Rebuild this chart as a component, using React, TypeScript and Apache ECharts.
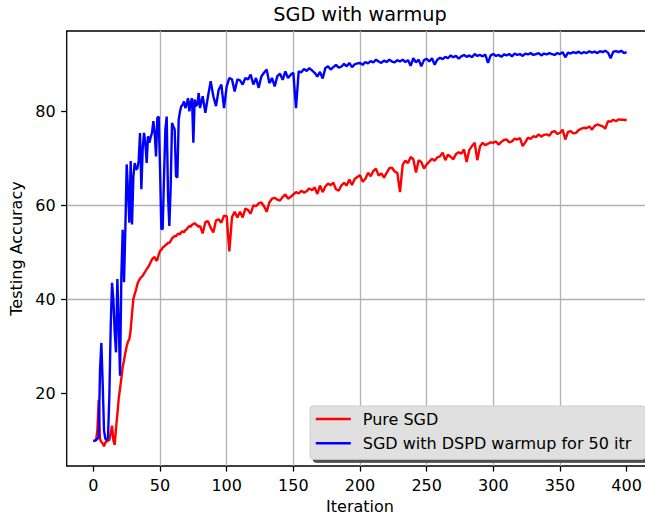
import React, { useEffect, useRef } from "react";
import * as echarts from "echarts";

const FONT = "DejaVu Sans";
const VIEW_W = 645;
const CHART_W = 660;
const CHART_H = 519;

// x grid of the recorded points: every iteration up to 80, then every 2nd
const iterations: number[] = [];
for (let i = 0; i <= 80; i++) iterations.push(i);
for (let i = 82; i <= 400; i += 2) iterations.push(i);

const seriesNames = ["Pure SGD", "SGD with DSPD warmup for 50 itr"];

// Pure SGD: it 0..80 (step 1), then 82..400 (step 2)
const pureSGD = [
  9.8, 9.9, 10.0, 12.0, 18.6, 10.2, 9.6, 9.3, 8.7, 9.5,
  9.7, 9.9, 10.0, 11.5, 13.1, 10.0, 9.0, 12.5, 15.5, 18.8,
  21.0, 23.2, 25.5, 27.0, 28.6, 30.0, 31.0, 31.5, 33.5, 37.0,
  40.0, 41.1, 42.0, 43.2, 43.9, 44.4, 44.7, 45.0, 45.5, 45.9,
  46.4, 46.8, 47.3, 47.9, 48.5, 48.8, 49.0, 48.2, 48.4, 49.5,
  50.3, 50.5, 51.0, 51.2, 51.5, 51.7, 52.0, 52.0, 52.4, 53.0,
  53.2, 53.5, 53.4, 53.8, 54.0, 53.8, 54.3, 54.5, 54.2, 54.7,
  54.9, 55.3, 55.6, 55.4, 55.9, 56.0, 56.2, 55.9, 55.7, 55.4,
  55.6,
  54.0, 56.4, 56.6, 55.2, 54.2, 56.8, 57.0, 56.3, 57.8, 57.7,
  50.2, 57.5, 58.6, 57.4, 58.6, 57.4, 59.3, 59.0, 58.2, 60.0,
  59.8, 60.4, 60.6, 59.8, 58.6, 60.6, 61.4, 61.6, 61.2, 61.0,
  61.8, 62.3, 61.4, 61.8, 62.3, 62.8, 62.5, 63.1, 62.7, 63.0,
  63.6, 63.2, 63.8, 62.4, 64.2, 62.8, 64.0, 64.6, 64.3, 64.8,
  63.4, 63.1, 64.2, 64.8, 64.2, 65.5, 64.3, 65.6, 66.0, 66.4,
  65.0, 65.6, 66.9, 66.2, 67.3, 67.8, 66.3, 66.8, 65.9, 66.9,
  67.9, 68.0, 67.2, 66.9, 62.8, 68.6, 69.5, 69.0, 70.3, 69.8,
  67.0, 69.6, 69.2, 67.8, 68.7, 69.3, 69.9, 69.5, 70.2, 70.4,
  71.2, 69.6, 70.8, 70.3, 69.8, 70.9, 71.3, 71.0, 71.9, 69.2,
  71.8, 72.6, 73.3, 69.6, 72.5, 73.3, 72.8, 73.1, 73.4, 73.3,
  73.6, 72.9, 73.5, 73.9, 74.0, 73.4, 73.6, 74.2, 74.0, 74.3,
  72.6, 73.4, 74.4, 74.1, 74.7, 74.5, 75.1, 74.6, 75.0, 75.1,
  74.8, 75.6, 75.8, 75.2, 75.4, 76.1, 74.0, 75.6, 75.8, 75.3,
  75.4, 76.0, 76.3, 76.5, 76.4, 76.8, 76.1, 76.9, 77.2, 77.0,
  76.8, 76.3, 77.9, 77.8, 78.2, 77.9, 78.3, 78.2, 78.2, 78.1,
];

// SGD with DSPD warmup: same x grid
const dspdWarmup = [
  9.8, 9.9, 10.0, 10.3, 10.6, 25.0, 30.7, 22.0, 12.0, 10.3,
  10.0, 10.6, 19.5, 34.0, 43.5, 40.0, 33.0, 28.7, 44.3, 35.0,
  23.7, 45.0, 54.8, 43.6, 55.0, 68.7, 63.0, 56.3, 69.4, 55.9,
  66.0, 69.0, 67.6, 67.8, 69.5, 75.4, 63.4, 72.0, 75.4, 73.3,
  69.0, 74.7, 73.3, 74.5, 75.4, 77.9, 75.4, 70.4, 78.6, 78.9,
  68.0, 54.9, 55.0, 66.0, 76.1, 78.9, 62.0, 55.6, 64.0, 77.5,
  76.8, 76.1, 66.2, 65.9, 78.2, 80.0, 81.1, 81.4, 82.1, 80.7,
  81.5, 82.8, 80.0, 81.9, 82.8, 73.3, 82.5, 81.1, 81.5, 83.9,
  80.7,
  83.2, 79.7, 83.2, 86.4, 83.2, 81.1, 84.6, 85.7, 80.7, 85.3,
  87.1, 86.8, 84.2, 86.8, 86.6, 85.7, 87.1, 86.8, 87.8, 85.7,
  87.1, 85.0, 87.4, 88.2, 88.9, 86.0, 87.1, 85.3, 87.5, 88.0,
  86.7, 88.5, 87.1, 87.8, 88.2, 80.7, 88.5, 88.3, 89.0, 88.6,
  89.2, 88.7, 88.2, 87.4, 88.4, 87.0, 89.2, 89.6, 88.9, 89.4,
  89.9, 89.3, 89.5, 90.1, 89.6, 90.3, 89.4, 90.0, 90.2, 90.3,
  89.9, 90.5, 90.2, 90.7, 90.4, 91.0, 90.6, 90.3, 90.8, 90.5,
  91.0, 90.6, 90.4, 90.9, 90.6, 91.0, 90.5, 90.9, 89.7, 91.3,
  90.4, 91.0, 89.6, 90.9, 91.2, 90.6, 91.3, 89.9, 91.0, 91.4,
  91.1, 91.6, 91.3, 91.9, 91.5, 91.8, 91.2, 91.7, 92.0, 91.6,
  91.9, 91.5, 92.2, 91.8, 92.0, 91.7, 92.1, 90.3, 91.9, 92.2,
  91.8, 92.0, 91.6, 92.1, 91.9, 92.2, 91.7, 92.3, 92.0, 92.2,
  91.8, 92.3, 92.1, 92.4, 92.0, 92.2, 92.4, 91.9, 92.3, 92.1,
  92.4, 92.2, 92.0, 92.4, 92.2, 92.6, 91.5, 92.5, 92.3, 92.6,
  92.4, 92.7, 92.3, 92.6, 92.4, 92.8, 92.5, 92.7, 92.4, 92.8,
  92.6, 92.9, 92.5, 91.3, 92.7, 92.8, 92.6, 92.9, 92.4, 92.6,
];

const xTicks = [0, 50, 100, 150, 200, 250, 300, 350, 400];
const yTicks = [20, 40, 60, 80];
const seriesColors = ["#ff0000", "#0000ff"];

// layout (pixels)
const PLOT_LEFT = 66.7;
const PLOT_RIGHT = 653.3;
const PLOT_TOP = 31;
const PLOT_BOTTOM = 467.3;
const LEGEND_RIGHT = 645.3;
const LEGEND_BOTTOM = 459.3;

const tickStyle = { color: "#000", width: 1.3 };
const gridLineStyle = { color: "#b0b0b0", width: 1.3 };
const labelText = { fontFamily: FONT, fontSize: 16, color: "#000" };

function buildOption(): any {
  const lines = [pureSGD, dspdWarmup].map((vals, s) => ({
    name: seriesNames[s],
    type: "line",
    data: iterations.map((x, i) => [x, vals[i]]),
    showSymbol: false,
    symbol: "none",
    clip: true,
    z: 2 + s,
    lineStyle: { color: seriesColors[s], width: 2.4 },
    itemStyle: { color: seriesColors[s] },
    emphasis: { disabled: true },
  }));

  return {
    animation: false,
    textStyle: { fontFamily: FONT },
    title: {
      text: "SGD with warmup",
      left: (PLOT_LEFT + PLOT_RIGHT) / 2,
      top: 5,
      padding: 0,
      textAlign: "center",
      textStyle: { fontFamily: FONT, fontSize: 19.3, fontWeight: "normal", color: "#000" },
    },
    grid: {
      left: PLOT_LEFT,
      right: CHART_W - PLOT_RIGHT,
      top: PLOT_TOP,
      bottom: CHART_H - PLOT_BOTTOM,
      show: true,
      borderColor: "#000",
      borderWidth: 1.3,
      backgroundColor: "transparent",
    },
    xAxis: {
      type: "value",
      min: -20,
      max: 420,
      splitNumber: 9,
      position: "bottom",
      name: "Iteration",
      nameLocation: "middle",
      nameGap: 32,
      nameTextStyle: labelText,
      axisLine: { show: false, onZero: false },
      axisTick: { show: true, length: 5.6, lineStyle: tickStyle, customValues: xTicks },
      axisLabel: { ...labelText, margin: 11, customValues: xTicks },
      splitLine: { show: true, showMinLine: false, showMaxLine: false, lineStyle: gridLineStyle },
    },
    yAxis: {
      type: "value",
      min: 4.5,
      max: 97.1,
      splitNumber: 5,
      position: "left",
      name: "Testing Accuracy",
      nameLocation: "middle",
      nameGap: 39,
      nameTextStyle: labelText,
      axisLine: { show: false, onZero: false },
      axisTick: { show: true, length: 5.6, lineStyle: tickStyle, customValues: yTicks },
      axisLabel: { ...labelText, margin: 11, customValues: yTicks },
      splitLine: { show: true, showMinLine: false, showMaxLine: false, lineStyle: gridLineStyle },
    },
    legend: {
      data: seriesNames,
      orient: "vertical",
      right: CHART_W - LEGEND_RIGHT,
      bottom: CHART_H - LEGEND_BOTTOM,
      padding: [4, 14, 7, 5.7],
      itemGap: 6.3,
      icon: "rect",
      itemWidth: 35,
      itemHeight: 2.4,
      backgroundColor: "#e0e0e0",
      borderColor: "#cccccc",
      borderWidth: 1,
      borderRadius: 3,
      shadowColor: "#4d4d4d",
      shadowOffsetX: 3,
      shadowOffsetY: 3,
      shadowBlur: 0,
      selectedMode: false,
      z: 10,
      textStyle: { ...labelText, lineHeight: 18, padding: [0, 0, 0, 7] },
    },
    series: lines,
  };
}

export default function App() {
  const ref = useRef<HTMLDivElement>(null);
  useEffect(() => {
    document.body.style.margin = "0";
    if (!ref.current) return;
    const chart = echarts.init(ref.current, null, { renderer: "svg" });
    chart.setOption(buildOption());
    return () => chart.dispose();
  }, []);
  return (
    <div style={{ width: VIEW_W, height: CHART_H, overflow: "hidden", position: "relative", background: "#fff" }}>
      <div ref={ref} style={{ width: CHART_W, height: CHART_H }} />
    </div>
  );
}
